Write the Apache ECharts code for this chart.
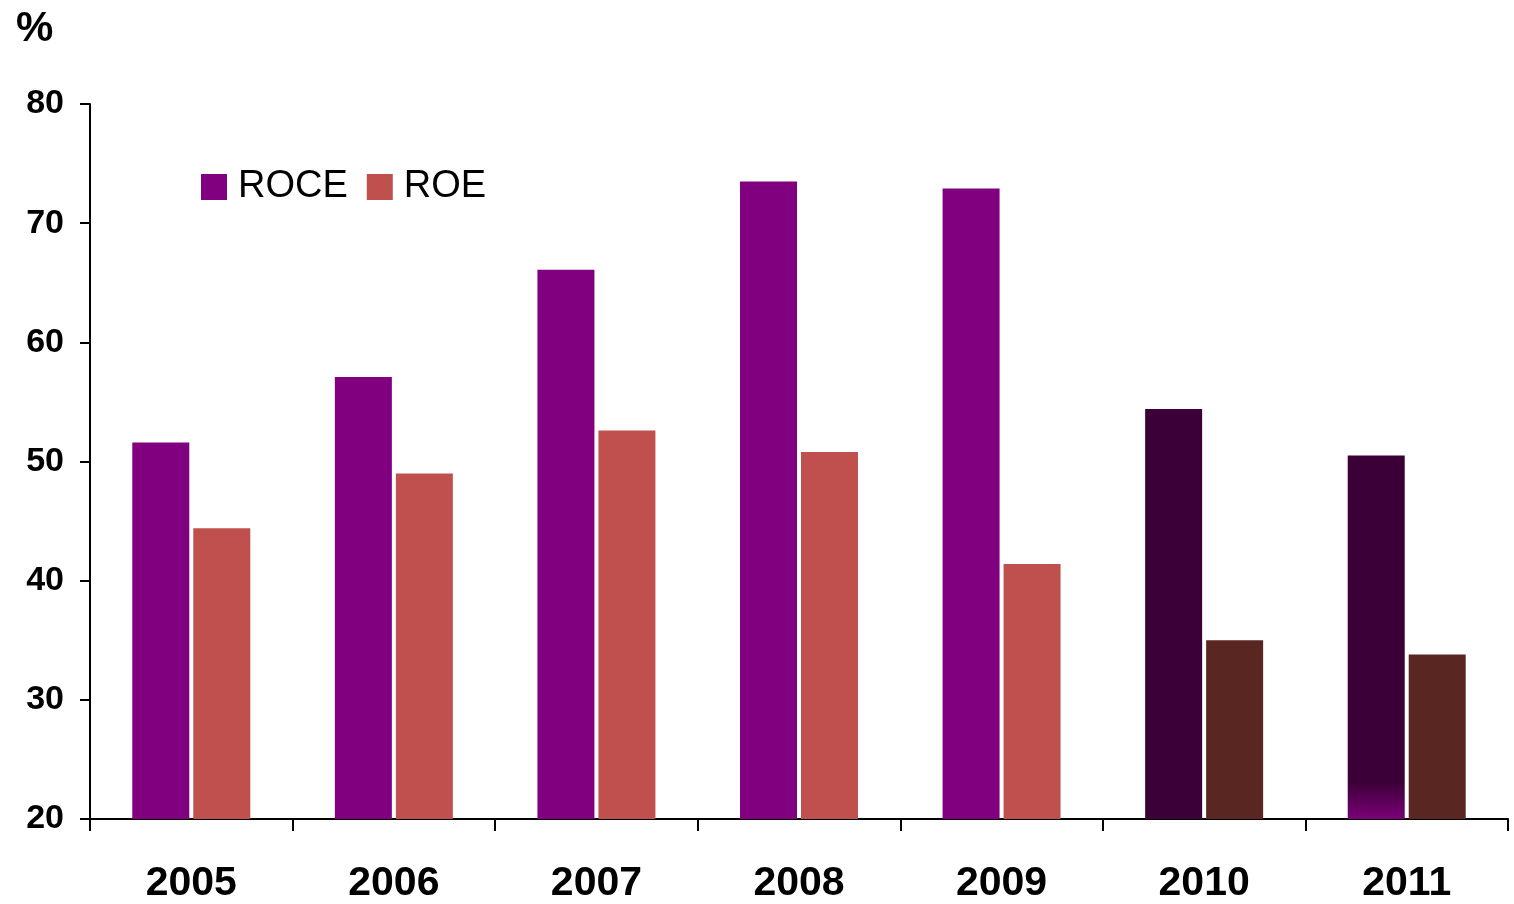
<!DOCTYPE html>
<html>
<head>
<meta charset="utf-8">
<script src="https://cdn.jsdelivr.net/npm/echarts@6/dist/echarts.min.js"></script>
<style>
html,body{margin:0;padding:0;background:#fff;}
#chart{width:1514px;height:904px;}
</style>
</head>
<body>
<div id="chart"></div>
<script>
const years = ['2005','2006','2007','2008','2009','2010','2011'];
const roce = [51.6, 57.1, 66.1, 73.5, 72.9, 54.4, 50.5];
const roe = [44.4, 49.0, 52.6, 50.8, 41.4, 35.0, 33.8];
const yTicks = [20, 30, 40, 50, 60, 70, 80];

const FONT = '"Liberation Sans", Arial, sans-serif';
const PURPLE = '#800080', RED = '#C0504D';
const DARK_PURPLE = '#3C0038', DARK_RED = '#592622';

const roceData = roce.map((v, i) => {
  if (i === 5) return { value: v, itemStyle: { color: DARK_PURPLE } };
  if (i === 6) return { value: v, itemStyle: { color: {
    type: 'linear', x: 0, y: 0, x2: 0, y2: 1,
    colorStops: [{ offset: 0, color: DARK_PURPLE }, { offset: 0.9, color: DARK_PURPLE }, { offset: 1, color: '#7A0078' }]
  } } };
  return v;
});
const roeData = roe.map((v, i) => (i >= 5 ? { value: v, itemStyle: { color: DARK_RED } } : v));

const chart = echarts.init(document.getElementById('chart'));
chart.setOption({
  animation: false,
  backgroundColor: '#fff',
  textStyle: { fontFamily: FONT },
  title: {
    text: '%', left: 11, top: 3,
    textStyle: { fontFamily: FONT, fontSize: 42, fontWeight: 'bold', color: '#000' }
  },
  legend: {
    left: 196, top: 163, itemWidth: 26, itemHeight: 26, itemGap: 19,
    icon: 'rect',
    textStyle: { fontFamily: FONT, fontSize: 38, color: '#000', padding: [0, 0, 0, 6] },
    data: ['ROCE', 'ROE']
  },
  grid: { left: 90, right: 6, top: 104, bottom: 81, containLabel: false },
  xAxis: {
    type: 'category', data: years,
    axisLine: { lineStyle: { color: '#000', width: 2 } },
    axisTick: { show: true, length: 12, alignWithLabel: false, lineStyle: { color: '#000', width: 2 } },
    axisLabel: { margin: 44, fontFamily: FONT, fontSize: 41, fontWeight: 'bold', color: '#000' }
  },
  yAxis: {
    type: 'value', min: yTicks[0], max: yTicks[yTicks.length - 1], interval: 10,
    splitLine: { show: false },
    axisLine: { show: true, lineStyle: { color: '#000', width: 2 } },
    axisTick: { show: true, length: 10, lineStyle: { color: '#000', width: 2 } },
    axisLabel: { margin: 26, fontFamily: FONT, fontSize: 34, fontWeight: 'bold', color: '#000' }
  },
  series: [
    { name: 'ROCE', type: 'bar', data: roceData, barWidth: 57, barGap: '7%', itemStyle: { color: PURPLE } },
    { name: 'ROE', type: 'bar', data: roeData, barWidth: 57, itemStyle: { color: RED } }
  ]
});
</script>
</body>
</html>
